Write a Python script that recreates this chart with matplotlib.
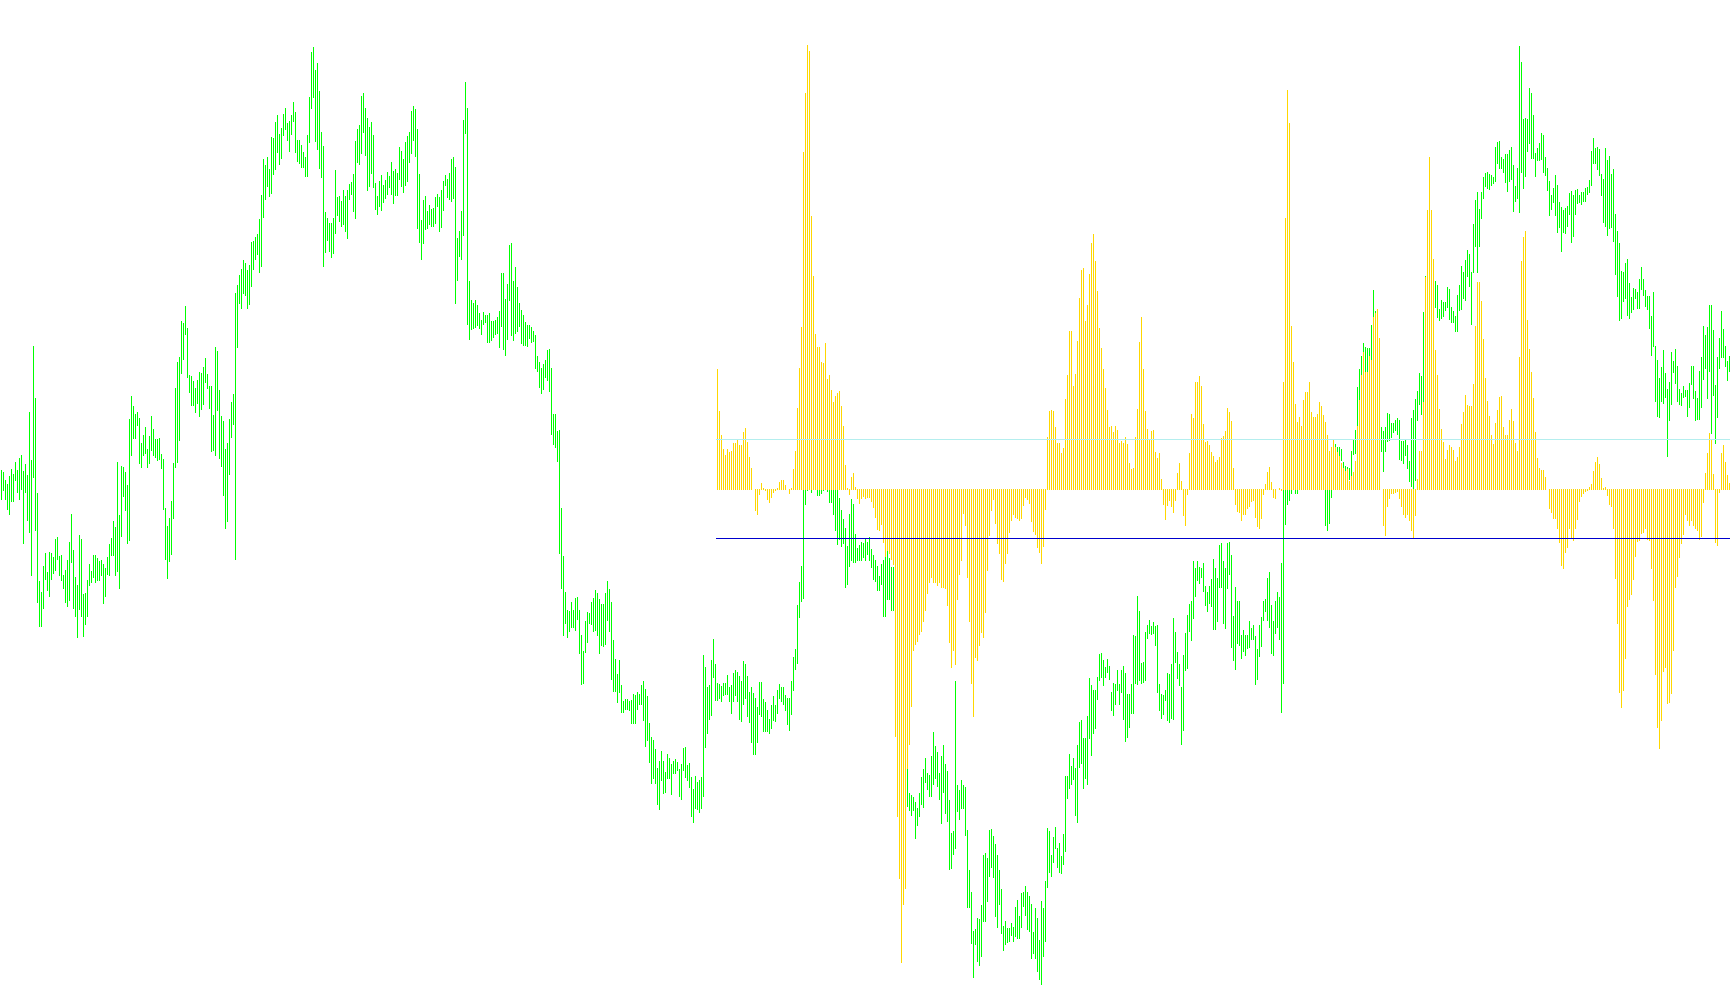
import numpy as np
import matplotlib
matplotlib.use("Agg")
import matplotlib.pyplot as plt

# price bars (high, low), oldest first
price_bars = [
    (535, 506), (533, 515), (525, 506), (521, 496), (529, 491), (536, 504), (531, 504), (543, 525), (535, 513), (547, 506),
    (550, 516), (534, 462), (541, 513), (530, 485), (593, 473), (545, 430), (659, 528), (607, 475), (512, 403), (424, 379),
    (413, 379), (439, 397), (452, 426), (433, 415), (453, 409), (452, 426), (448, 432), (466, 435), (468, 446), (449, 430),
    (450, 425), (430, 417), (435, 403), (445, 399), (463, 405), (491, 443), (455, 397), (428, 389), (420, 368), (470, 396),
    (466, 389), (411, 369), (412, 381), (425, 389), (441, 420), (434, 423), (450, 428), (450, 423), (447, 425), (444, 425),
    (445, 430), (441, 402), (437, 409), (448, 431), (461, 430), (467, 450), (484, 450), (478, 430), (543, 434), (490, 417),
    (539, 469), (538, 509), (533, 495), (520, 462), (586, 465), (609, 550), (599, 567), (591, 567), (593, 580), (587, 542),
    (562, 538), (570, 550), (578, 552), (556, 538), (569, 542), (589, 555), (576, 550), (566, 548), (566, 545), (567, 546),
    (551, 537), (546, 496), (497, 446), (479, 427), (487, 444), (504, 451), (542, 487), (617, 538), (643, 543), (648, 565),
    (684, 632), (682, 646), (699, 671), (677, 628), (630, 613), (629, 600), (624, 600), (617, 593), (625, 602), (633, 589),
    (632, 596), (638, 601), (647, 623), (631, 617), (619, 597), (619, 554), (590, 555), (658, 550), (654, 595), (615, 547),
    (589, 539), (584, 510), (556, 477), (562, 484), (586, 531), (603, 568), (611, 581), (712, 446), (720, 658), (730, 702),
    (736, 697), (745, 712), (742, 710), (735, 697), (740, 701),
    (763, 719), (764, 736), (768, 746), (771, 751), (786, 733), (810, 739), (846, 788), (840, 806), (848, 819), (836, 809),
    (868, 812), (867, 831), (883, 836), (890, 853), (871, 841), (877, 847), (891, 870), (897, 876), (882, 865), (884, 854),
    (890, 871), (903, 884), (893, 853), (865, 844), (865, 842), (860, 838), (853, 838), (848, 829), (870, 829), (908, 863),
    (953, 897), (958, 908), (935, 864), (942, 856), (914, 837), (873, 828), (859, 739), (793, 753), (787, 765), (782, 754),
    (782, 748), (787, 752), (835, 772), (808, 790), (809, 784), (804, 779), (815, 781), (809, 774), (815, 767), (821, 806),
    (823, 811), (831, 794), (864, 787), (876, 843), (880, 841), (909, 852), (912, 873), (897, 850), (887, 815), (878, 819),
    (883, 832), (870, 818), (822, 796), (809, 791), (824, 799), (830, 795), (820, 803), (825, 807), (833, 811), (829, 818),
    (843, 811), (834, 802), (836, 810), (832, 810), (858, 826), (854, 819), (846, 813), (863, 820), (869, 824), (873, 843),
    (894, 852), (899, 865), (896, 849), (876, 777), (831, 763), (785, 746), (805, 762), (809, 776), (794, 777), (800, 781),
    (796, 779), (797, 779), (808, 782), (811, 799), (808, 774), (815, 778), (824, 795), (830, 820), (826, 808), (832, 806),
    (846, 804), (848, 807), (838, 702), (767, 725), (774, 749), (794, 746), (885, 770), (923, 872), (897, 681), (724, 666),
    (705, 676), (702, 677), (705, 678), (700, 680), (692, 677), (685, 671), (693, 681), (690, 683), (690, 663), (692, 663),
    (684, 665), (684, 668), (685, 671), (688, 672), (694, 658),
    (732, 679), (732, 656), (706, 650), (721, 666), (760, 705), (762, 670), (724, 665), (738, 672), (718, 674), (702, 679),
    (695, 662), (690, 660), (683, 660), (680, 659), (680, 667), (678, 663), (674, 664), (670, 637), (649, 634), (643, 618),
    (637, 612), (641, 616), (645, 628), (655, 625), (656, 614), (637, 571), (591, 561), (591, 558), (574, 544), (575, 452),
    (497, 417), (449, 370), (413, 382), (395, 368), (394, 374), (403, 378), (395, 378), (407, 375), (408, 386), (395, 352),
    (370, 321), (354, 322), (384, 353), (393, 363), (392, 382), (403, 381), (407, 374), (415, 375), (412, 370), (406, 352),
    (401, 360), (401, 359), (412, 361), (424, 385), (416, 374), (403, 326), (365, 314), (346, 314), (331, 303), (345, 313),
    (320, 293), (304, 293), (306, 296), (306, 296), (304, 295), (305, 282), (311, 282), (310, 282), (313, 296), (311, 301),
    (320, 301), (324, 285), (316, 259), (309, 265), (282, 243), (268, 222), (265, 227), (256, 222), (237, 201), (244, 196),
    (254, 225), (244, 212), (233, 213), (251, 227), (247, 227), (241, 211), (244, 232), (246, 232), (243, 235), (236, 209),
    (241, 206), (257, 235), (258, 228), (240, 225), (242, 218), (228, 189), (216, 183), (229, 197), (223, 196), (225, 193),
    (228, 197), (350, 209), (338, 258), (318, 272), (320, 286), (345, 290), (366, 328), (341, 305), (322, 305), (321, 307),
    (319, 304), (322, 310), (322, 311), (330, 311), (318, 304),
    (320, 292), (332, 304), (335, 310), (333, 304), (329, 286), (324, 284), (344, 301), (341, 307), (329, 289), (313, 283),
    (318, 263), (312, 251), (307, 251), (298, 263), (323, 291), (323, 289), (306, 274), (303, 274), (295, 274), (286, 272),
    (300, 277), (309, 285), (300, 284), (315, 292), (321, 307), (318, 304), (318, 301), (310, 295), (307, 281), (307, 275),
    (324, 291), (348, 315), (356, 336), (400, 342), (423, 388), (439, 404), (525, 407), (530, 501), (535, 515), (540, 518),
    (545, 513), (548, 520), (550, 520), (545, 510), (540, 510), (540, 512), (538, 515), (540, 518), (535, 514), (530, 503),
    (528, 503), (525, 491), (520, 475), (515, 461), (507, 466), (495, 459), (486, 462), (477, 418), (459, 421), (491, 439),
    (506, 445), (501, 443), (471, 443), (457, 445), (460, 445), (463, 445), (462, 448), (466, 445), (463, 451), (468, 445),
    (456, 438), (450, 426), (445, 424), (439, 415), (429, 415), (441, 421), (445, 389), (462, 389), (456, 406), (447, 406),
    (438, 395), (438, 395),
    (354, 316), (330, 290), (300, 255), (270, 225), (250, 215), (240, 205), (240, 199), (212, 195), (210, 190), (208, 195),
    (203, 167), (197, 180), (212, 189), (228, 201), (236, 198), (247, 223), (232, 216), (230, 209), (249, 209), (273, 221),
    (259, 227), (253, 219), (232, 206), (249, 182), (260, 213), (241, 192), (234, 184), (205, 136), (172, 137), (174, 151),
    (324, 157), (220, 194), (215, 186), (225, 197), (220, 197), (218, 170), (175, 98), (135, 98), (113, 62), (74, 28),
    (76, 61), (87, 44), (86, 40), (100, 49), (150, 84), (152, 84), (147, 104), (175, 129), (176, 138), (169, 128),
    (161, 89), (150, 78), (135, 101), (116, 72), (79, 55), (84, 61), (77, 63), (77, 64), (82, 70), (78, 64),
    (98, 69), (105, 67), (89, 67), (112, 78), (113, 99), (119, 90), (113, 76), (109, 74), (101, 47), (73, 52),
    (97, 47), (87, 34), (65, 26), (104, 21), (97, 49), (124, 64), (177, 118), (174, 133), (150, 129), (168, 143),
    (178, 157), (157, 138), (162, 133), (149, 132), (171, 141), (229, 154), (229, 207), (251, 217), (239, 221), (247, 226),
    (237, 190), (260, 183), (283, 238), (285, 242), (267, 217), (267, 227), (289, 221), (327, 267), (320, 250), (315, 272),
    (315, 277), (328, 306), (351, 325), (352, 328), (345, 320), (338, 328), (346, 333), (339, 326),
    (313, 295), (322, 290), (321, 301), (335, 315), (321, 301), (335, 313), (339, 286), (332, 264), (311, 268), (311, 278),
    (321, 292), (370, 292), (369, 322), (409, 321), (394, 325), (342, 322), (343, 323), (373, 325), (380, 367), (385, 372),
    (379, 371), (383, 372), (379, 360), (380, 313), (321, 295), (311, 287), (310, 291), (315, 305), (332, 285), (331, 283),
    (341, 287), (387, 286), (373, 343), (353, 327), (341, 320), (318, 261), (350, 275), (372, 335), (390, 337), (401, 374),
    (404, 365), (444, 387), (437, 409), (444, 425), (438, 422), (437, 428), (442, 414), (419, 400), (413, 394), (419, 402),
    (426, 399), (446, 376), (437, 376), (427, 384), (460, 418), (462, 418), (444, 382), (437, 377), (462, 417), (463, 431),
    (450, 358), (389, 345), (418, 336), (404, 362), (404, 360), (370, 347), (375, 354), (370, 350), (370, 357), (384, 358),
    (377, 366), (380, 366), (369, 321), (356, 326), (380, 349), (388, 359), (404, 385), (406, 394), (427, 385), (433, 378),
    (400, 352), (384, 350), (404, 372), (413, 378), (408, 366), (442, 293), (545, 322), (545, 481), (532, 501), (520, 505),
    (530, 512), (545, 520), (540, 512), (538, 512), (550, 522), (555, 528), (560, 530), (565, 535), (562, 532), (570, 538),
    (560, 530), (555, 525), (552, 522), (558, 526), (548, 520), (545, 518), (540, 518), (523, 480), (525, 475), (525, 482),
    (530, 508), (566, 516), (561, 537), (558, 545), (558, 541), (556, 545), (543, 537), (539, 532), (538, 525), (537, 526),
    (554, 526), (566, 551), (575, 552), (618, 580), (636, 605), (649, 630), (662, 653), (658, 634), (657, 634), (657, 627),
    (680, 640), (715, 680), (694, 670), (690, 640), (660, 600), (578, 554), (574, 534), (578, 554), (592, 564), (591, 565),
    (582, 568), (582, 573), (585, 575), (587, 571), (585, 546), (564, 545), (564, 542), (566, 550), (560, 537), (544, 524),
    (587, 519), (595, 516), (606, 525), (614, 585), (632, 601), (629, 591), (693, 604), (729, 684), (745, 700), (742, 705),
    (738, 700), (735, 695), (724, 698), (720, 688), (696, 685), (705, 687), (703, 689), (703, 695), (718, 698), (716, 686),
    (698, 683), (694, 683), (689, 674), (710, 674), (720, 695), (739, 696), (733, 707), (745, 705), (755, 729), (751, 719),
    (733, 681), (781, 733), (805, 759), (813, 733), (796, 759),
    (813, 787), (828, 807), (832, 819), (833, 817), (831, 816), (830, 820), (828, 822), (858, 824), (863, 842), (864, 837),
    (848, 837), (846, 833), (851, 823), (851, 814), (855, 824), (858, 826), (840, 794), (819, 804), (837, 807), (959, 793),
    (943, 833), (886, 817), (887, 829), (886, 854), (917, 862), (912, 847), (890, 847), (852, 829), (857, 845), (862, 845),
    (872, 846), (870, 833), (848, 830), (837, 815), (824, 790), (810, 796), (817, 803), (830, 790), (820, 773), (803, 778),
    (798, 754), (795, 773), (797, 772), (799, 779), (812, 791), (814, 763), (810, 769), (815, 791), (816, 802), (810, 803),
    (813, 801), (813, 804), (817, 804), (818, 811), (825, 813), (854, 820), (867, 842), (857, 842), (858, 836), (856, 830),
    (831, 810), (826, 783), (857, 779), (845, 770), (849, 777), (831, 778), (836, 764), (791, 731), (774, 709), (762, 685),
    (734, 687), (733, 704), (742, 707), (746, 690), (722, 687), (708, 693), (717, 696), (716, 707), (713, 697), (726, 697),
    (738, 716), (726, 710), (715, 699), (709, 696), (709, 677), (689, 650), (713, 659), (659, 604), (645, 589), (627, 588),
    (638, 604), (655, 602), (632, 608), (616, 549), (623, 585), (653, 601), (644, 633), (656, 622), (639, 604), (616, 601),
    (612, 600), (619, 608), (615, 609), (615, 589), (622, 598), (639, 621), (639, 607), (614, 585), (607, 586), (634, 586),
    (648, 598), (679, 626), (670, 637), (678, 607), (700, 634), (700, 572), (675, 610), (620, 562), (648, 588), (667, 637),
    (694, 648), (676, 648), (659, 639), (644, 625), (649, 634),
]

# oscillator histogram, aligned to the last price bars
osc_values = [
    120, 78, 54, 40, 34, 40, 37, 38, 46, 46, 49, 44, 44, 57, 61, 47, 32, 21, 0, -21,
    -25, -5, 6, 1, -1, -10, -13, -8, -3, -1, 1, 7, 9, 9, 4, 0, -4, 1, 20, 38,
    81, 121, 162, 337, 396, 444, 438, 273, 213, 155, 142, 142, 127, 126, 146, 110, 114, 99, 87, 93,
    96, 98, 83, 63, 24, 1, -5, 12, 16, 2, -9, -14, -9, -7, -9, -8, -8, -12, -18, -28,
    -40, -41, -35, -53, -67, -61, -64, -70, -75, -247, -327, -389, -473, -415, -399, -279, -255, -217, -161, -155,
    -152, -145, -142, -132, -121, -104, -93, -88, -93, -93, -96, -93, -98, -98, -99, -116, -153, -178, -161, -175,
    -110, -85, -71, -24, -36, -88, -132, -194, -227, -168, -171, -156,
    -143, -148, -123, -81, -46, -21, -10, -34, -54, -64, -90, -92, -74, -64, -43, -31, -25, -28, -29, -31,
    -29, -16, -8, -10, -14, -32, -42, -45, -58, -63, -74, -57, -20, 52, 78, 79, 78, 62, 46, 46,
    36, 41, 90, 114, 158, 158, 103, 115, 148, 191, 219, 221, 168, 184, 215, 246, 255, 228, 198, 161,
    141, 120, 101, 79, 62, 63, 57, 63, 59, 46, 48, 46, 52, 45, 26, 20, 21, 52, 80, 147,
    172, 120, 78, 60, 50, 58, 59, 37, 31, 36, 10, -15, -30, -16, -11, -17, -23, -11, 16, 26,
    8, -26, -36, -5, 36, 75, 71, 107, 107, 113, 103, 65, 47, 48, 44, 37, 33, 27, 29, 32,
    51, 53, 58, 81, 77,
    68, 21, -15, -22, -23, -31, -25, -25, -19, -17, -12, -11, -28, -37, -39, -29, -5, 5, 17, 22,
    7, -8, -9, 0, 1, -1, 107, 271, 399, 366, 163, 127, 85, 67, 72, 63, 89, 97, 97, 107,
    77, 72, 72, 75, 87, 83, 74, 67, 54, 38, 42, 50, 42, 37, 33, 26, 21, 18, 20, 8,
    13, 17, 28, 63, 89, 114, 137, 117, 117, 133, 129, 172, 176, 180, 151, 0, -36, -46, -17, -9,
    -4, -4, -3, -2, -9, -17, -25, -28, -25, -31, -41, -49, -26, 10, 38, 38, 87, 212, 279, 332,
    279, 230, 139, 114, 80, 60, 47, 30, 39, 44, 42, 39, 28, 32, 42, 65, 77, 94, 84, 83,
    83, 105, 163, 207, 207,
    188, 150, 111, 88, 73, 54, 45, 66, 79, 92, 93, 62, 54, 54, 69, 80, 68, 46, 38, 132,
    228, 252, 258, 169, 140, 117, 91, 57, 31, 21, 19, 19, 12, 0, -19, -23, -29, -29, -39, -53,
    -76, -79, -63, -58, -39, -49, -51, -39, -30, -12, -7, -4, -2, -1, 2, 5, 18, 27, 32, 25,
    11, 1, 2, -6, -15, -17, -39, -89, -134, -203, -218, -201, -169, -117, -110, -105, -90, -67, -52, -51,
    -44, -43, -39, -50, -51, -79, -111, -185, -238, -259, -231, -182, -178, -214, -213, -204, -161, -98, -87, -68,
    -54, -45, -25, -31, -36, -31, -36, -39, -41, -50, -47, -13, 16, 36, 56, 49, 15, -53, -56, -3,
    36, 44, 27, 14, 6,
]

levels = [50, -48.5]
level_colors = ['#b4eeee', '#0000cd']

highs = np.array([b[0] for b in price_bars])
lows = np.array([b[1] for b in price_bars])
n = len(price_bars)
x = np.arange(n)
x_osc = np.arange(n - len(osc_values), n)

fig = plt.figure(figsize=(17.3, 10.05), dpi=100)
ax = fig.add_axes([0, 0, 1, 1])
ax.set_xlim(-0.75, n - 0.25)
ax.set_ylim(0, 1005)
ax.axis('off')
ax.vlines(x, lows, highs, colors='#00ff00', linewidth=0.72, antialiased=False)

ax2 = ax.twinx()
ax2.set_ylim(-516, 489)
ax2.axis('off')
ax2.vlines(x_osc, 0, osc_values, colors='#ffd700', linewidth=0.72, antialiased=False)
for lv, c in zip(levels, level_colors):
    ax2.hlines(lv, x_osc[0] - 0.5, n, colors=c, linewidth=0.72, antialiased=False)

fig.savefig('out.png', dpi=100, facecolor='white')
